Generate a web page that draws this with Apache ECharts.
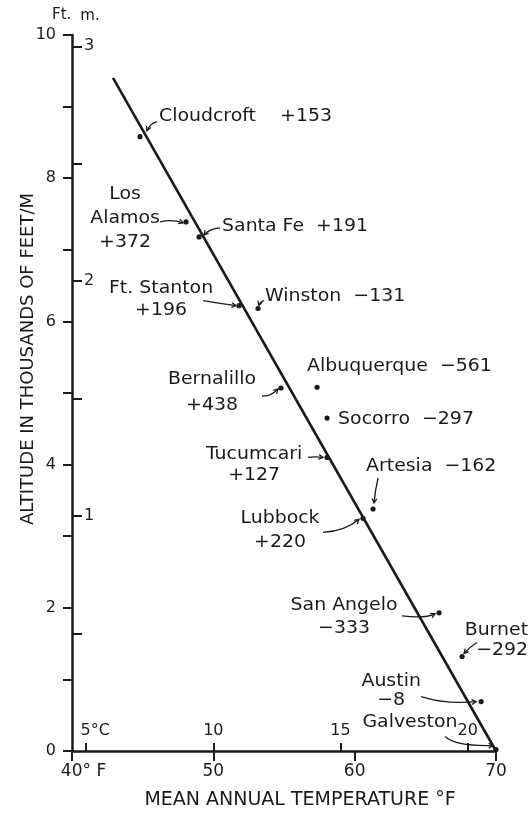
<!DOCTYPE html>
<html><head><meta charset="utf-8">
<script src="https://cdn.jsdelivr.net/npm/echarts@6/dist/echarts.min.js"></script>
<style>html,body{margin:0;padding:0;background:#fff}#c{width:532px;height:815px}</style>
</head><body><div id="c"></div>
<script>
// ---- data ----
const stations = ['Cloudcroft','Los Alamos','Santa Fe','Ft. Stanton','Winston','Bernalillo','Albuquerque','Socorro','Tucumcari','Artesia','Lubbock','San Angelo','Burnet','Austin','Galveston'];
const meanTempF = [44.81,48.07,48.99,51.82,53.16,54.79,57.34,58.05,58.05,61.30,60.59,65.97,67.60,68.95,70.0];
const altitudeKft = [8.58,7.39,7.18,6.22,6.18,5.07,5.08,4.65,4.10,3.38,3.25,1.93,1.32,0.69,0.02];
const deviationFt = [153,372,191,196,-131,438,-561,-297,127,-162,220,-333,-292,-8,null];
const fitTempF = [42.9, 70];
const fitAltKft = [9.40, 0];
const celsiusTicks = [5,10,15,20];
const meterTicks = [0.5,1,1.5,2,2.5,3];
const meterLabels = [1,2,3];

// ---- label placement (pixel offsets from each point) ----
const INK = '#1b1b1b';
const FONT = '"DejaVu Sans", sans-serif';
const labelLayout = {
  'Cloudcroft':  {form:'inline', gap:4, dx:19,  dy:-20, align:'left',   lh:20, arrow:[17,-15,10,-13,7,-6]},
  'Los Alamos':  {form:'wrap',          dx:-61, dy:-28, align:'center', lh:24, arrow:[-26,0,-14,-3,-3,1]},
  'Santa Fe':    {form:'inline', gap:2, dx:23,  dy:-11, align:'left',   lh:20, arrow:[21,-9,10,-8,5,-2]},
  'Ft. Stanton': {form:'stack',         dx:-78, dy:-17, align:'center', lh:22, arrow:[-36,-5,-18,-2,-3,0]},
  'Winston':     {form:'inline', gap:2, dx:7,   dy:-12, align:'left',   lh:20, arrow:[6,-8,2,-7,1,-3]},
  'Bernalillo':  {form:'stack',         dx:-69, dy:-9,  align:'center', lh:26, arrow:[-19,8,-11,9,-3,1]},
  'Albuquerque': {form:'inline', gap:2, dx:-10, dy:-21, align:'left',   lh:20},
  'Socorro':     {form:'inline', gap:2, dx:11,  dy:1,   align:'left',   lh:20},
  'Tucumcari':   {form:'stack',         dx:-73, dy:-3,  align:'center', lh:21, arrow:[-19,0,-12,-1,-4,0]},
  'Artesia':     {form:'inline', gap:2, dx:-7,  dy:-43, align:'left',   lh:20, arrow:[5,-31,2,-18,1,-6]},
  'Lubbock':     {form:'stack',         dx:-83, dy:0,   align:'center', lh:24, arrow:[-40,14,-18,13,-4,1]},
  'San Angelo':  {form:'stack',         dx:-95, dy:-7,  align:'center', lh:23, arrow:[-37,3,-15,6,-4,1]},
  'Burnet':      {form:'stack',         dx:66,  dy:-26, align:'right',  lh:20, arrow:[15,-14,8,-10,2,-3]},
  'Austin':      {form:'stack',         dx:-90, dy:-20, align:'center', lh:19, arrow:[-60,-5,-35,3,-5,0]},
  'Galveston':   {form:'name',          dx:-86, dy:-27, align:'center', lh:20, arrow:[-51,-13,-40,-3,-3,-4]}
};

function fmtDev(v){ return v > 0 ? '+' + v : '\u2212' + Math.abs(v); }
function labelText(i){
  const name = stations[i], L = labelLayout[name], d = deviationFt[i];
  if (L.form === 'name' || d == null) return name;
  if (L.form === 'inline') return name + ' '.repeat(L.gap) + fmtDev(d);
  if (L.form === 'wrap') return name.replace(' ', '\n') + '\n' + fmtDev(d);
  return name + '\n' + fmtDev(d);
}

const chart = echarts.init(document.getElementById('c'), null, {renderer:'canvas'});

function renderStation(params, api){
  const i = params.dataIndex;
  const p = api.coord([api.value(0), api.value(1)]);
  const L = labelLayout[stations[i]];
  const children = [];
  children.push({type:'circle', shape:{cx:p[0], cy:p[1], r:2.6}, style:{fill:INK}});
  children.push({
    type:'text', x:p[0] + L.dx, y:p[1] + L.dy - L.lh/2, scaleX:1.05, originX:0, originY:0,
    style:{text:labelText(i), x:0, y:0, fill:INK, font:'18px ' + FONT, align:L.align, verticalAlign:'top', lineHeight:L.lh}
  });
  if (L.arrow){
    const [sx,sy,cx,cy,ex,ey] = L.arrow;
    const x1 = p[0]+sx, y1 = p[1]+sy, qx = p[0]+cx, qy = p[1]+cy, x2 = p[0]+ex, y2 = p[1]+ey;
    children.push({type:'bezierCurve', shape:{x1:x1, y1:y1, cpx1:qx, cpy1:qy, x2:x2, y2:y2}, style:{stroke:INK, lineWidth:1.3, fill:null}});
    let dx = x2 - qx, dy = y2 - qy; const len = Math.hypot(dx, dy) || 1; dx /= len; dy /= len;
    const a = 0.5, h = 5;
    const r1 = [x2 - h*(dx*Math.cos(a) - dy*Math.sin(a)), y2 - h*(dx*Math.sin(a) + dy*Math.cos(a))];
    const r2 = [x2 - h*(dx*Math.cos(-a) - dy*Math.sin(-a)), y2 - h*(dx*Math.sin(-a) + dy*Math.cos(-a))];
    children.push({type:'polyline', shape:{points:[r1,[x2,y2],r2]}, style:{stroke:INK, lineWidth:1.3, fill:null}});
  }
  return {type:'group', children};
}

const axisLineStyle = {color:INK, width:2.5};
const option = {
  backgroundColor:'#fff',
  animation:false,
  textStyle:{fontFamily:FONT, color:INK},
  title:{text:'Ft.', left:52, top:8, padding:0, textStyle:{fontSize:15, fontWeight:'normal', color:INK, fontFamily:FONT}},
  grid:{left:72, right:36, top:35, bottom:60},
  xAxis:[{
    type:'value', min:40, max:70, interval:10, position:'bottom',
    axisLine:{show:true, onZero:false, lineStyle:axisLineStyle},
    axisTick:{show:true, length:10, lineStyle:{color:INK, width:2}},
    splitLine:{show:false},
    axisLabel:{fontSize:17, margin:12, color:INK, fontFamily:FONT,
      formatter:v => v === 40 ? '{a|40° F}' : String(v),
      rich:{a:{fontSize:17, color:INK, fontFamily:FONT, padding:[0,0,0,23]}}},
    name:'MEAN ANNUAL TEMPERATURE °F', nameLocation:'middle', nameGap:40, nameMoveOverlap:false,
    nameTextStyle:{fontSize:19, color:INK, fontFamily:FONT, padding:[0,0,0,32]}
  },{
    type:'value', min:(40-32)/1.8, max:(70-32)/1.8, position:'bottom', offset:0,
    axisLine:{show:false},
    axisTick:{show:true, inside:true, length:8, customValues:celsiusTicks, lineStyle:{color:INK, width:2}},
    splitLine:{show:false},
    axisLabel:{show:true, inside:true, margin:12, fontSize:16, color:INK, fontFamily:FONT, customValues:celsiusTicks,
      formatter:v => v === 5 ? '{a|5°C}' : String(v),
      rich:{a:{fontSize:16, color:INK, fontFamily:FONT, padding:[0,0,0,18]}}}
  }],
  yAxis:[{
    type:'value', min:0, max:10, interval:1, position:'left',
    axisLine:{show:true, onZero:false, lineStyle:axisLineStyle},
    axisTick:{show:true, length:9, lineStyle:{color:INK, width:2}},
    splitLine:{show:false},
    axisLabel:{fontSize:16, margin:16, color:INK, fontFamily:FONT, formatter:v => (v % 2 === 0 ? String(v) : '')},
    name:'ALTITUDE IN THOUSANDS OF FEET/M', nameLocation:'middle', nameGap:35, nameMoveOverlap:false,
    nameTextStyle:{fontSize:18, color:INK, fontFamily:FONT, padding:[0,0,0,68]}
  },{
    type:'value', min:0, max:3.048, position:'left', offset:0,
    axisLine:{show:false},
    axisTick:{show:true, inside:true, length:10, customValues:meterTicks, lineStyle:{color:INK, width:2}},
    splitLine:{show:false},
    axisLabel:{show:true, inside:true, margin:12, fontSize:16, color:INK, fontFamily:FONT, customValues:meterLabels},
    name:'m.', nameLocation:'end', nameGap:11,
    nameTextStyle:{fontSize:15, color:INK, fontFamily:FONT, padding:[0,0,0,36]}
  }],
  series:[{
    type:'line', xAxisIndex:0, yAxisIndex:0, symbol:'none', silent:true,
    data:fitTempF.map((t,i) => [t, fitAltKft[i]]),
    lineStyle:{color:INK, width:2.6}
  },{
    type:'custom', xAxisIndex:0, yAxisIndex:0, clip:false, silent:true,
    encode:{x:0, y:1},
    data:stations.map((s,i) => [meanTempF[i], altitudeKft[i]]),
    renderItem:renderStation
  }]
};
chart.setOption(option);
</script></body></html>
